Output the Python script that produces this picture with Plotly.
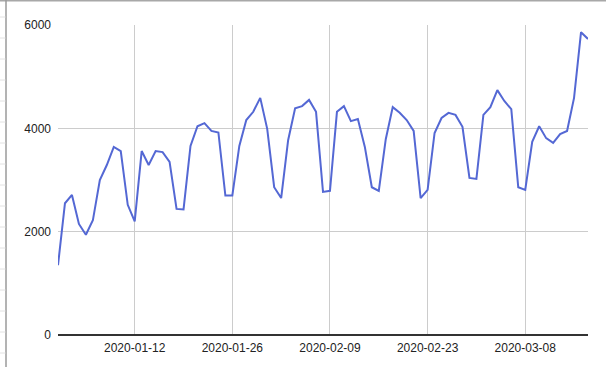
import plotly.graph_objects as go
import pandas as pd

start_date = "2020-01-01"
values = [
    1350, 2550, 2710, 2150, 1940, 2220, 3000, 3290, 3640, 3560,
    2520, 2200, 3560, 3290, 3560, 3540, 3350, 2440, 2430, 3660,
    4040, 4100, 3950, 3920, 2700, 2700, 3660, 4160, 4320, 4590,
    3990, 2860, 2650, 3770, 4390, 4430, 4550, 4320, 2770, 2790,
    4320, 4430, 4140, 4180, 3640, 2860, 2790, 3790, 4410, 4300,
    4160, 3950, 2650, 2810, 3910, 4200, 4300, 4260, 4030, 3040,
    3020, 4260, 4410, 4740, 4530, 4370, 2860, 2810, 3740, 4040,
    3810, 3720, 3890, 3950, 4590, 5860, 5730,
]
dates = pd.date_range(start_date, periods=len(values), freq="D")
y_ticks = [0, 2000, 4000, 6000]

W, H = 606, 367
ml, mr, mt, mb = 58, 18, 25, 32
pw, ph = W - ml - mr, H - mt - mb

def px_x(p):
    return (p - ml) / pw

def px_y(p):
    return (H - mb - p) / ph

fig = go.Figure()
fig.add_trace(go.Scatter(
    x=dates, y=values, mode="lines",
    line=dict(color="#5468d4", width=2),
    hoverinfo="skip",
))

shapes = []
# spreadsheet frame: top border and left border
shapes.append(dict(type="line", xref="paper", yref="paper",
                   x0=px_x(0), x1=px_x(W), y0=px_y(0.5), y1=px_y(0.5),
                   line=dict(color="#a8a8a8", width=2)))
shapes.append(dict(type="line", xref="paper", yref="paper",
                   x0=px_x(6), x1=px_x(6), y0=px_y(0), y1=px_y(H),
                   line=dict(color="#9a9a9a", width=1.5)))
for k in range(17):
    yy = 17 + 21 * k
    shapes.append(dict(type="line", xref="paper", yref="paper",
                       x0=px_x(0), x1=px_x(5.5), y0=px_y(yy), y1=px_y(yy),
                       line=dict(color="#e2e2e2", width=1)))

fig.update_layout(
    width=W, height=H,
    margin=dict(l=ml, r=mr, t=mt, b=mb),
    paper_bgcolor="white", plot_bgcolor="white",
    showlegend=False,
    font=dict(family="Liberation Sans, Arial, sans-serif", size=12, color="#222222"),
    shapes=shapes,
    xaxis=dict(
        range=[dates[0], dates[-1]],
        tick0="2020-01-12", dtick=14 * 24 * 3600 * 1000,
        tickformat="%Y-%m-%d",
        showgrid=True, gridcolor="#cccccc", gridwidth=1,
        showline=False, zeroline=False, ticks="",
        ticklabelstandoff=4,
    ),
    yaxis=dict(
        range=[0, 6000], tickvals=y_ticks,
        showgrid=True, gridcolor="#cccccc", gridwidth=1,
        zeroline=True, zerolinecolor="#333333", zerolinewidth=1.5,
        showline=False, ticks="",
        ticklabelstandoff=6,
    ),
)

fig.write_html("out.html")
